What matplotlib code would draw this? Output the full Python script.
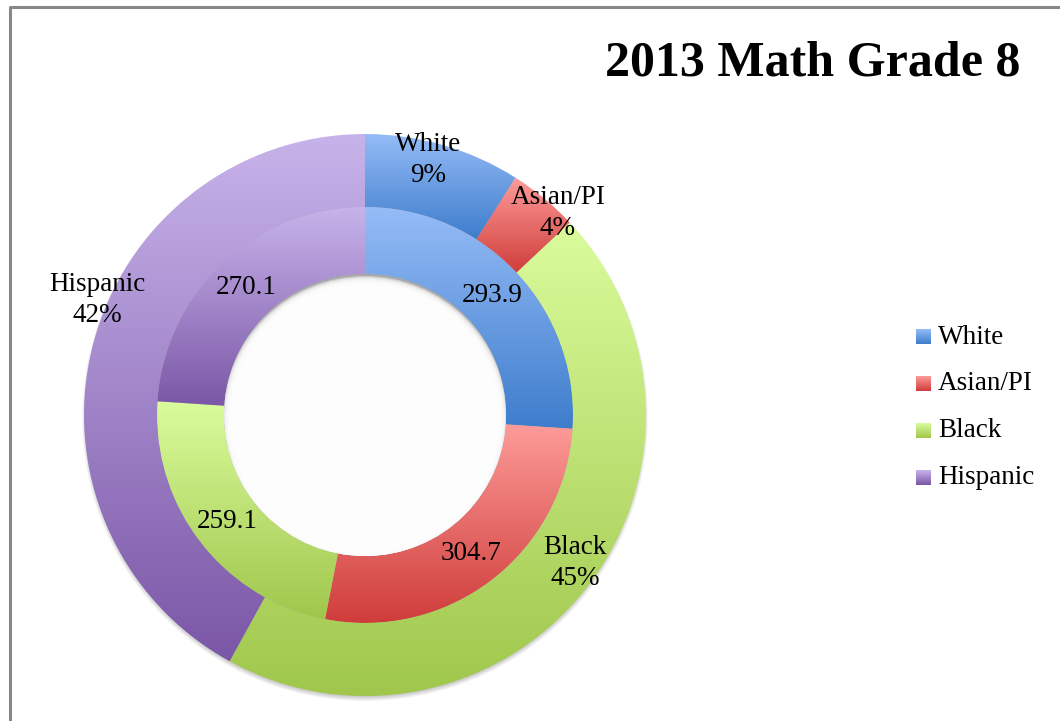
import numpy as np
import matplotlib.pyplot as plt
from matplotlib.colors import to_rgb
from matplotlib.patches import Circle

plt.rcParams['font.family'] = ['Liberation Serif', 'DejaVu Serif']

groups = ["White", "Asian/PI", "Black", "Hispanic"]
share_pct = [9, 4, 45, 42]
scale_scores = [293.9, 304.7, 259.1, 270.1]
light = ["#95bcf7", "#fd9b98", "#dafc9c", "#c7b3ea"]
dark = ["#3e7dcc", "#cf3d3b", "#a0c74c", "#7b57a7"]

# outer label offsets from the centre (pixel units)
outer_label_xy = [(63, 255), (193, 202), (210, -148), (-268, 115)]

R_OUT, R_MID, R_HOLE = 281, 208, 141


def ramp(c_top, c_bot, n=256):
    t = np.linspace(0, 1, n)[:, None, None]
    return (1 - t) * np.array(to_rgb(c_top)) + t * np.array(to_rgb(c_bot))


def shade(ax, wedge, c_top, c_bot):
    x0, y0, x1, y1 = wedge.get_path().get_extents().extents
    im = ax.imshow(ramp(c_top, c_bot), extent=(x0, x1, y0, y1), origin='upper',
                   interpolation='bilinear', aspect='auto', zorder=2)
    im.set_clip_path(wedge)
    wedge.set_facecolor('none')


fig = plt.figure(figsize=(10.6, 7.21), dpi=100)

# page overlay in pixel coordinates: frame, title, legend
page = fig.add_axes([0, 0, 1, 1])
page.set_xlim(0, 1060)
page.set_ylim(721, 0)
page.axis('off')
page.plot([10, 10, 1060], [721, 7, 7], color='#888888', lw=2.2, solid_capstyle='butt')
page.text(1020, 64, "2013 Math Grade 8", ha='right', va='center',
          fontsize=36, fontweight='bold')
for i, g in enumerate(groups):
    yc = 337 + i * 46.7
    page.imshow(ramp(light[i], dark[i], 32), extent=(916, 931, yc + 7.5, yc - 7.5),
                origin='upper', aspect='auto')
    page.text(938, yc, g, ha='left', va='center', fontsize=19.5)
page.set_xlim(0, 1060)
page.set_ylim(721, 0)

# donut axes: 1 data unit = 1 pixel, centred on the ring centre
ax = fig.add_axes([65 / 1060, 6 / 721, 600 / 1060, 600 / 721])

# soft drop shadow under the outer ring
for k in range(8):
    ax.add_patch(Circle((0, -3), R_OUT + 2 - k, facecolor='black', alpha=0.045,
                        edgecolor='none', zorder=1))

outer, _ = ax.pie(share_pct, radius=R_OUT, startangle=90, counterclock=False,
                  wedgeprops=dict(width=R_OUT - R_MID, edgecolor='none'))
inner, _ = ax.pie(scale_scores, radius=R_MID, startangle=90, counterclock=False,
                  wedgeprops=dict(width=R_MID - R_HOLE, edgecolor='none'))
for i in range(len(groups)):
    shade(ax, outer[i], light[i], dark[i])
    shade(ax, inner[i], light[i], dark[i])

# inner shadow along the top rim of the hole
hole = Circle((0, 0), R_HOLE, facecolor='#a8a8a8', edgecolor='none', zorder=3)
ax.add_patch(hole)
for k in range(9):
    c = Circle((0, -4), R_HOLE + 2 - k, facecolor='white', alpha=0.4,
               edgecolor='none', zorder=3)
    ax.add_patch(c)
    c.set_clip_path(hole)

# score labels at the middle of each inner wedge
frac = np.array(scale_scores) / sum(scale_scores)
mids = np.cumsum(frac) - frac / 2
for m, v in zip(mids, scale_scores):
    ang = np.deg2rad(90 - 360 * m)
    r = (R_MID + R_HOLE) / 2
    ax.text(r * np.cos(ang), r * np.sin(ang), f"{v:.1f}", ha='center', va='center',
            fontsize=19.5, zorder=5)

for (x, y), g, p in zip(outer_label_xy, groups, share_pct):
    ax.text(x, y, f"{g}\n{p}%", ha='center', va='center', fontsize=19.5,
            linespacing=1.35, zorder=5)

ax.set_xlim(-300, 300)
ax.set_ylim(-300, 300)
ax.set_aspect('equal')
ax.axis('off')

fig.savefig("out.png", dpi=100)
